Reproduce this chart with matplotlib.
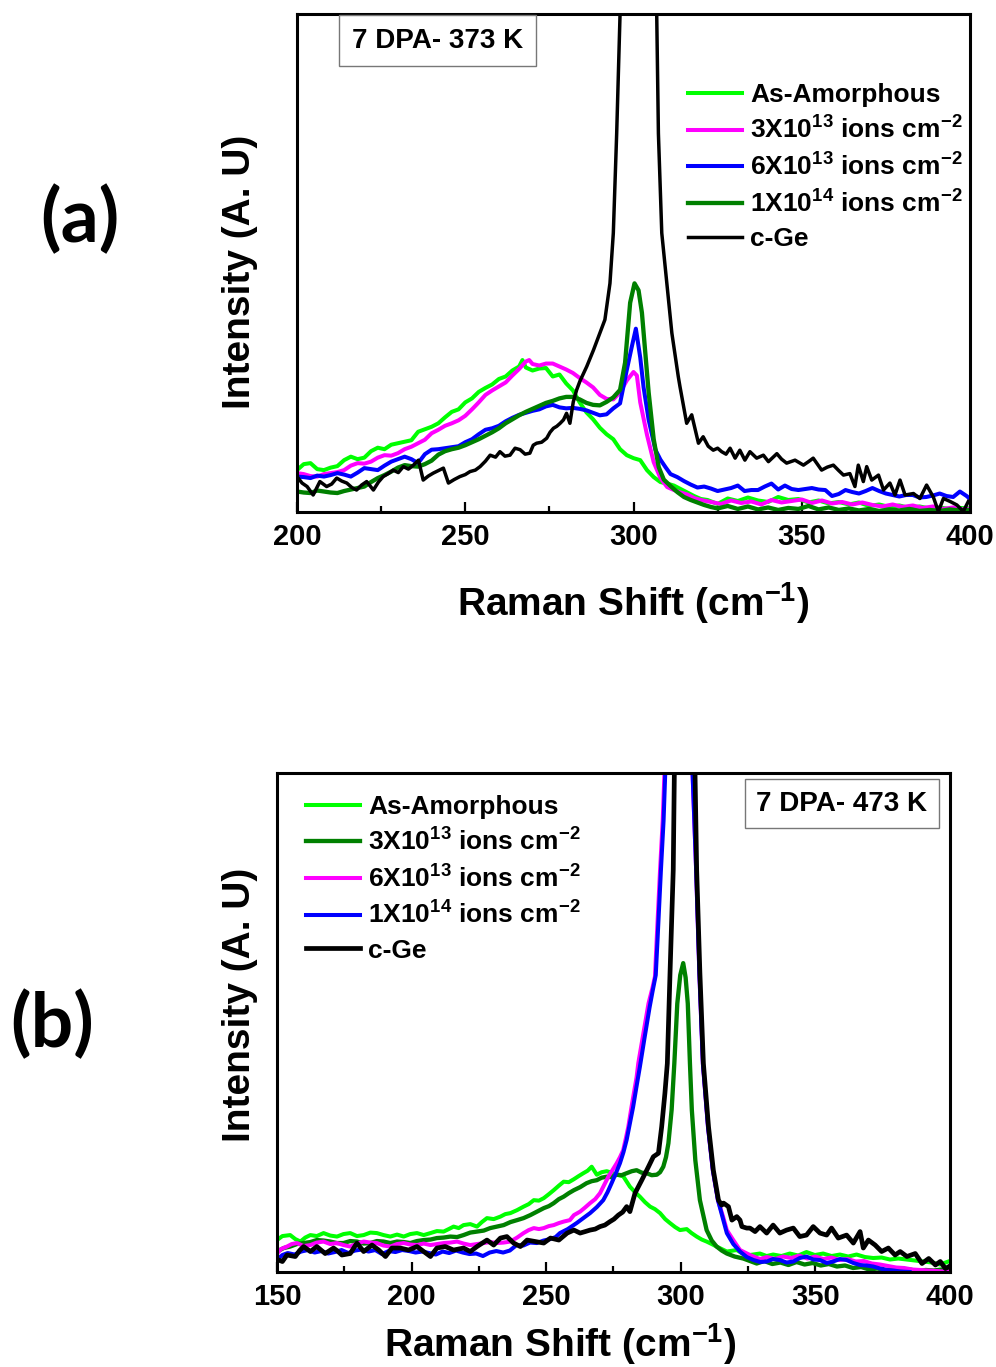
import matplotlib
matplotlib.use("Agg")
import matplotlib.pyplot as plt
from matplotlib.ticker import MultipleLocator

plt.rcParams['font.family'] = ['Liberation Sans', 'DejaVu Sans']
plt.rcParams['font.weight'] = 'bold'
plt.rcParams['mathtext.fontset'] = 'custom'
plt.rcParams['mathtext.rm'] = 'Liberation Sans:bold'
plt.rcParams['mathtext.bf'] = 'Liberation Sans:bold'
plt.rcParams['mathtext.default'] = 'rm'

# ---------------- panel (a): 7 DPA - 373 K ----------------
a_amorph_x = [200, 202, 204, 206, 208, 210, 212, 214, 216, 218, 220, 222, 224, 226, 228, 230, 232, 234, 236, 238,
              240, 242, 244, 246, 248, 250, 252, 254, 256, 258, 260, 262, 264, 266, 267, 268, 270, 272, 274, 276,
              278, 280, 282, 284, 286, 288, 290, 292, 294, 296, 298, 300, 302, 304, 306, 308, 310, 312, 314, 316,
              318, 320, 322, 325, 328, 331, 334, 337, 340, 343, 346, 349, 352, 355, 358, 361, 364, 367, 370, 373,
              376, 379, 382, 385, 388, 391, 394, 397, 400]
a_amorph_y = [8.4, 9.6, 9.8, 8.6, 8.4, 8.9, 9.2, 10.4, 11.1, 10.6, 10.9, 12.2, 12.9, 12.6, 13.5, 13.8, 14.1, 14.4, 16.1, 16.6,
              17.1, 17.8, 19.0, 20.1, 20.6, 22.0, 22.8, 24.1, 24.9, 25.6, 26.7, 27.2, 28.4, 29.2, 30.5, 29.0, 28.4, 28.8, 28.9, 27.2,
              27.6, 25.8, 24.4, 22.0, 20.0, 18.6, 16.9, 15.6, 14.6, 12.6, 11.4, 10.8, 10.4, 8.4, 7.0, 6.0, 5.7, 5.3, 4.6, 3.9,
              3.2, 2.6, 2.4, 1.6, 2.7, 2.2, 2.9, 2.3, 2.0, 3.0, 2.4, 2.6, 1.9, 2.3, 1.7, 2.0, 1.5, 1.9, 1.2, 1.5,
              1.0, 1.3, 0.8, 1.1, 0.7, 0.9, 0.6, 0.8, 0.7]

a_3e13_x = [200, 202, 204, 206, 208, 210, 212, 214, 216, 218, 220, 222, 224, 226, 228, 230, 232, 234, 236, 238,
            240, 242, 244, 246, 248, 250, 252, 254, 256, 258, 260, 262, 264, 266, 268, 269, 270, 272, 274, 276,
            278, 280, 282, 284, 286, 288, 290, 292, 294, 296, 298, 300, 301, 302, 304, 306, 308, 310, 312, 314,
            316, 318, 320, 323, 326, 329, 332, 335, 338, 341, 344, 347, 350, 353, 356, 359, 362, 365, 368, 371,
            374, 377, 380, 383, 386, 389, 392, 395, 398, 400]
a_3e13_y = [7.8, 7.6, 7.2, 7.1, 7.6, 7.8, 8.0, 8.4, 9.3, 9.8, 9.7, 10.1, 10.9, 11.4, 11.3, 11.8, 12.6, 13.1, 13.8, 14.5,
            15.8, 16.5, 17.3, 17.8, 18.4, 19.3, 20.6, 22.0, 23.5, 24.4, 25.2, 26.0, 27.4, 28.7, 30.2, 30.5, 29.7, 29.4, 29.8, 29.8,
            29.2, 28.6, 27.9, 26.9, 26.0, 25.0, 23.5, 22.7, 22.6, 24.0, 26.4, 28.1, 27.4, 22.0, 15.5, 10.0, 6.8, 5.0, 4.4, 3.9,
            3.5, 2.8, 2.4, 2.0, 1.6, 2.3, 1.8, 2.1, 1.5, 2.4, 1.9, 2.2, 2.5, 1.8, 2.3, 1.7, 2.0, 1.5, 1.9, 1.4,
            1.1, 1.5, 1.0, 1.3, 0.8, 1.1, 0.6, 0.9, 0.5, 0.6]

a_6e13_x = [200, 202, 204, 206, 208, 210, 212, 214, 216, 218, 220, 222, 224, 226, 228, 230, 232, 234, 236, 238,
            240, 242, 244, 246, 248, 250, 252, 254, 256, 258, 260, 262, 264, 266, 268, 270, 272, 274, 276, 278,
            280, 282, 284, 286, 288, 290, 292, 294, 296, 298, 299.5, 300.7, 302, 303, 304.5, 306.5, 308, 309.5, 311, 313,
            315, 317, 319, 321, 323, 325, 327, 329, 331, 333, 335, 337, 339, 341, 343, 345, 347, 349, 351, 353,
            355, 357, 359, 361, 363, 365, 367, 369, 371, 373, 375, 377, 379, 381, 383, 385, 387, 389, 391, 393,
            395, 397, 399, 400]
a_6e13_y = [7.1, 7.0, 6.8, 7.3, 7.1, 7.4, 7.8, 7.5, 7.1, 7.9, 8.8, 8.6, 8.4, 9.3, 10.1, 10.6, 11.1, 10.6, 9.8, 11.6,
            12.5, 12.6, 12.8, 13.0, 13.2, 14.0, 14.6, 15.6, 16.5, 16.8, 17.3, 18.2, 18.9, 19.5, 19.9, 20.3, 20.6, 21.2, 21.5, 21.0,
            20.8, 20.9, 20.7, 20.4, 19.9, 19.4, 19.6, 20.8, 21.8, 28.5, 33.2, 36.8, 31.0, 25.0, 18.5, 12.5, 10.5, 9.0, 7.6, 7.0,
            6.2, 5.5, 4.9, 5.1, 4.7, 4.2, 4.5, 4.8, 5.3, 4.2, 4.4, 4.4, 5.1, 5.7, 4.5, 5.3, 4.6, 4.4, 4.6, 4.8,
            4.5, 4.4, 3.2, 3.6, 4.4, 4.0, 3.7, 4.2, 4.8, 4.2, 3.7, 3.4, 3.1, 3.4, 3.4, 2.9, 3.0, 3.3, 3.7, 3.2,
            3.0, 4.1, 3.2, 2.6]

a_1e14_x = [200, 202, 204, 206, 208, 210, 212, 214, 216, 218, 220, 222, 224, 226, 228, 230, 232, 234, 236, 238,
            240, 242, 244, 246, 248, 250, 252, 254, 256, 258, 260, 262, 264, 266, 268, 270, 272, 274, 276, 278,
            280, 282, 284, 286, 288, 290, 292, 294, 296, 297.5, 299, 300.3, 301.5, 302.5, 303.5, 304.5, 306, 307.5, 309, 311,
            313, 315, 317, 319, 321, 323, 325, 328, 331, 334, 337, 340, 343, 346, 349, 352, 355, 358, 361, 364,
            367, 370, 373, 376, 379, 382, 385, 388, 391, 394, 397, 400]
a_1e14_y = [4.1, 3.9, 3.8, 4.3, 4.1, 3.9, 3.8, 4.2, 4.5, 4.8, 5.1, 6.0, 6.8, 7.4, 8.1, 8.9, 9.4, 9.2, 9.1, 9.6,
            10.3, 11.5, 12.2, 12.6, 12.9, 13.4, 14.0, 14.6, 15.3, 16.0, 16.8, 17.8, 18.6, 19.4, 20.1, 20.7, 21.3, 21.9, 22.3, 22.8,
            23.1, 23.1, 22.6, 21.9, 21.5, 21.4, 22.1, 23.0, 24.5, 30.0, 42.0, 45.9, 44.5, 40.0, 32.0, 24.0, 14.6, 9.0, 6.5, 5.2,
            4.0, 3.0, 2.4, 1.9, 1.4, 1.0, 0.7, 1.2, 0.6, 1.1, 0.5, 0.9, 0.4, 0.8, 0.6, 1.2, 0.5, 0.9, 0.4, 0.7,
            0.3, 0.6, 0.2, 0.5, 0.3, 0.6, 0.2, 0.4, 0.2, 0.5, 0.3, 0.4]

a_cge_x = [200, 201.5, 203, 204.8, 206.8, 208.8, 210.3, 211.8, 213.3, 214.8, 216.3, 217.7, 219.2, 220.7, 222.7, 224.2,
           225.6, 227.1, 228.6, 230.1, 231.6, 233.1, 234.6, 236.1, 237.5, 239, 240.5, 242, 243.5, 245, 246.7, 248.4,
           250, 251.4, 253, 254.4, 256, 257.4, 259, 260.3, 261.8, 263.3, 264.8, 266.3, 267.8, 269.2, 270.2, 271.2,
           272.7, 274.2, 275.2, 276.2, 277.2, 278.2, 279.2, 280.1, 281.1, 282.1, 283.1, 284.1, 286.1, 288.1, 290,
           291.5, 293, 294, 295, 296, 298, 301, 304, 306.9, 307.4, 308.4, 309.9, 311.4, 313.3, 313.8, 315.8, 317.3,
           319.3, 320.7, 322.2, 323.7, 325, 326.2, 327.5, 328.7, 330.2, 331.6, 333.1, 334.6, 336.6, 338.6, 340.1,
           342.6, 344, 345.5, 348, 350.5, 352, 353.4, 355.9, 357.6, 359.4, 361, 362.4, 364.3, 365.8, 366.8, 368.3,
           369.3, 370.8, 372.8, 374.3, 376.2, 377.7, 379.2, 380.7, 383.2, 385.1, 387.1, 389.1, 390.6, 392.1, 394.1,
           396.1, 398, 399.5]
a_cge_y = [7.1, 5.8, 5.1, 3.4, 6.1, 5.1, 5.6, 6.8, 6.2, 5.8, 4.9, 4.4, 5.4, 6.1, 4.4, 6.0,
           7.1, 7.7, 8.4, 7.9, 9.1, 8.6, 9.4, 10.4, 6.4, 7.2, 7.8, 8.3, 8.8, 5.8, 6.5, 7.1,
           7.5, 8.1, 8.4, 9.1, 10.2, 11.4, 11.0, 12.1, 11.2, 11.4, 12.8, 12.5, 11.6, 11.8, 13.4, 13.8,
           14.0, 14.8, 16.0, 16.8, 17.2, 17.8, 18.5, 19.8, 17.8, 22.1, 24.5, 26.3, 29.2, 32.5, 35.9,
           38.6, 45.9, 56.0, 76.0, 99.8, 150, 200, 150, 99.8, 76.0, 56.0, 45.9, 35.9, 27.2, 25.2, 17.8, 19.5,
           13.8, 15.1, 13.2, 12.4, 12.8, 12.1, 11.6, 12.8, 10.8, 12.4, 10.4, 12.1, 10.8, 11.4, 10.1,
           11.7, 10.6, 9.8, 10.4, 9.4, 10.1, 10.8, 8.4, 9.0, 9.4, 8.3, 7.4, 7.7, 5.1, 9.4, 6.1,
           9.1, 6.4, 7.4, 4.4, 5.8, 3.4, 6.4, 3.4, 3.7, 2.7, 5.4, 3.0, 0.1, 2.7, 2.1,
           1.4, 0.1, 2.1]

# ---------------- panel (b): 7 DPA - 473 K ----------------
b_amorph_x = [150, 152, 154.9, 156.8, 158.7, 160.5, 162.4, 164.8, 167.3, 169.8, 172.3, 174.7, 177.2, 179.7, 182.2,
              184.7, 187.1, 189.6, 192.1, 194.6, 197.1, 199.5, 202, 204.5, 207, 209.4, 211.9, 213.8, 215.6, 217.5,
              219.3, 221.8, 224.3, 226.1, 228, 230.5, 233, 234.8, 236.7, 239.2, 241.6, 243.5, 245.4, 247.3, 249.1,
              251, 252.8, 254.7, 256.5, 258.4, 260.3, 262, 263.8, 265.4, 266.9, 268.8, 270.6, 272.5, 274.3, 276.2,
              278.6, 281.1, 283, 284.8, 286.7, 288.6, 290.4, 292.3, 294.2, 296, 297.9, 299.7, 302.2, 304, 305.9,
              307.8, 309.6, 311.5, 313.3, 315.2, 317.1, 320.8, 323.2, 325.7, 329.4, 331.9, 334.3, 337.4, 340.5,
              343.6, 346.7, 349.8, 352.9, 356, 359.1, 362.2, 365.3, 368.4, 371.5, 374.6, 377.7, 380.8, 383.9,
              387, 390.1, 393.2, 396.3, 399.4]
b_amorph_y = [6.4, 7.2, 7.4, 6.6, 6.1, 6.9, 7.4, 7.2, 7.8, 7.3, 7.1, 7.6, 7.8, 7.2, 7.4,
              7.9, 7.8, 7.4, 7.1, 7.5, 7.1, 7.6, 7.8, 7.4, 7.8, 8.2, 8.1, 8.6, 9.1, 8.8,
              9.4, 9.6, 9.1, 10.0, 10.8, 10.6, 11.1, 11.6, 11.8, 12.4, 13.1, 13.6, 14.4, 14.3, 14.8,
              15.6, 16.4, 17.3, 18.1, 18.0, 18.6, 19.2, 19.8, 20.3, 21.1, 19.5, 20.0, 20.2, 19.9, 19.5,
              19.2, 17.1, 16.0, 15.1, 14.0, 13.1, 12.6, 11.8, 10.6, 9.8, 9.0, 8.4, 8.6, 7.8, 7.1,
              6.5, 6.1, 5.6, 5.1, 4.6, 4.1, 4.4, 3.6, 3.4, 3.7, 3.2, 3.5, 3.2, 3.7,
              3.3, 4.0, 3.4, 3.7, 3.2, 3.5, 3.1, 3.5, 3.0, 2.8, 2.9, 2.5, 2.7, 2.5,
              2.3, 2.1, 1.9, 1.5, 2.1]

b_3e13_x = [150, 152.5, 154.9, 157.4, 159.9, 162.4, 164.8, 167.3, 169.8, 172.3, 174.7, 177.2, 179.7, 182.2, 184.7,
            187.1, 189.6, 192.1, 194.6, 197.1, 199.5, 202, 204.5, 207, 209.4, 211.9, 214.4, 216.9, 219.3, 221.8,
            224.3, 226.8, 229.2, 231.7, 234.2, 236.7, 239.2, 241.6, 244.1, 246.6, 249.1, 251, 252.8, 254.7, 256.5,
            258.4, 260.3, 262.6, 265, 266.9, 268.8, 270.6, 272.5, 274.3, 276.2, 278, 279.9, 281.8, 283.6, 285.5,
            287.3, 289.2, 291.1, 292.3, 293.5, 294.5, 295.4, 296.6, 297.6, 298.7, 299.8, 300.9, 301.8, 302.6, 303.4,
            304.1, 305.4, 307.1, 309.6, 311.5, 313.3, 315.2, 317.1, 320, 323.2, 325.7, 328.2, 331, 334, 337,
            340, 343, 346, 349, 352, 355, 358, 361, 364, 367, 370, 373, 376, 379, 382,
            385, 388, 391, 394, 397, 400]
b_3e13_y = [4.1, 4.8, 5.1, 5.6, 5.8, 6.0, 6.4, 6.3, 6.1, 5.8, 5.8, 6.2, 6.1, 5.7, 5.8,
            6.2, 6.1, 5.8, 6.1, 6.0, 5.8, 6.2, 6.4, 6.5, 6.8, 6.9, 7.1, 7.0, 7.4, 7.9,
            8.1, 8.3, 8.8, 9.1, 9.4, 10.0, 10.4, 10.8, 11.4, 12.1, 12.8, 13.2, 13.8, 14.6, 15.1,
            15.8, 16.4, 17.0, 17.8, 18.2, 18.4, 18.9, 19.1, 19.0, 19.5, 19.4, 19.8, 20.2, 20.4, 19.9,
            19.8, 19.4, 19.5, 20.0, 21.1, 23.0, 25.8, 32.5, 41.8, 53.8, 59.5, 61.9, 59.0, 53.8, 41.8,
            32.5, 22.4, 14.4, 8.4, 6.3, 5.1, 4.3, 3.7, 3.1, 2.7, 2.2, 1.7, 2.2, 1.6, 1.9,
            1.4, 2.0, 1.5, 1.8, 1.3, 1.6, 1.1, 1.3, 0.8, 1.0, 0.5, 0.7, 0.4, 0.6, 0.3,
            0.5, 0.2, 0.4, 0.3, 0.5, 0.3]

b_6e13_x = [150, 151.5, 153.7, 155.5, 157.4, 159.9, 162.4, 164.8, 167.3, 169.8, 172.3, 174.7, 177.2, 179.7, 182.2,
            184.7, 187.1, 189.6, 192.1, 194.6, 197.1, 199.5, 202, 204.5, 207, 209.4, 211.9, 214.4, 216.9, 219.3,
            221.8, 224.3, 226.8, 229.2, 231.8, 234.2, 236.7, 239.2, 241.6, 243.5, 245.4, 247.3, 249.1, 251, 252.8,
            254.7, 256.5, 258.8, 260.3, 262.6, 264.4, 266.3, 268.2, 270, 271.5, 273.1, 274.6, 276.2, 277.4, 278.6,
            279.6, 280.5, 281.7, 283.6, 284.2, 286, 288, 289.5, 290.4, 291.1, 292.3, 293.3, 293.9, 295, 298,
            301, 303.5, 304.4, 305.7, 306.9, 308.2, 310.1, 311.9, 313.8, 315.7, 317.1, 319.5, 322, 325.7, 329.4,
            332, 335, 338, 341, 344, 347, 350, 353, 356, 359, 362, 365, 368, 371, 374,
            377, 380, 383, 386, 389, 392, 395, 398, 400]
b_6e13_y = [3.7, 4.6, 5.1, 5.6, 5.8, 5.2, 5.4, 5.9, 6.1, 5.6, 5.8, 5.4, 5.1, 5.7, 6.1,
            5.9, 5.8, 5.3, 5.1, 5.6, 5.8, 5.5, 5.4, 5.7, 5.4, 5.6, 5.8, 5.9, 6.1, 5.7,
            5.4, 5.6, 5.8, 6.0, 5.8, 5.9, 6.1, 6.9, 7.8, 8.4, 8.8, 8.6, 8.8, 9.2, 9.4,
            9.8, 10.1, 10.4, 11.4, 12.1, 12.9, 13.8, 14.6, 15.8, 17.4, 19.1, 20.4, 21.8, 23.0, 24.4,
            26.8, 29.1, 33.1, 39.1, 41.8, 47.5, 53.8, 57.0, 59.2, 67.2, 80.6, 90.6, 99.6, 130, 200,
            220, 160, 99.6, 80.6, 59.9, 41.8, 29.1, 20.4, 14.4, 11.1, 8.4, 6.4, 4.4, 3.4, 2.6,
            3.0, 2.6, 3.1, 2.8, 3.3, 2.7, 3.1, 2.6, 2.9, 2.4, 2.6, 2.1, 2.2, 1.7, 1.5,
            1.2, 0.9, 0.8, 0.5, 0.4, 0.3, 0.2, 0.1, 0.1]

b_1e14_x = [150, 152, 154, 156.5, 159, 161.5, 164, 166.5, 169, 171.5, 174, 176.5, 179, 181.5, 184,
            186.5, 189, 191.5, 194, 196.5, 199, 201.5, 204, 206.5, 209, 211.5, 214, 216.5, 219, 221.5,
            224, 226.5, 229, 231.5, 234, 236.5, 239, 241.5, 244, 246.5, 249, 251.5, 253.5, 255.1, 258,
            261.3, 263.8, 266.3, 268.8, 271.2, 272.8, 274.3, 275.9, 277.4, 278.7, 279.9, 281.1, 282.3, 283.5, 284.8,
            286.5, 288.4, 289.5, 290.7, 291.4, 292.6, 293.6, 294.2, 295, 298, 301, 303.5, 304.4, 305.7, 306.9,
            308.2, 310.1, 311.9, 313.8, 315.7, 317.1, 319.5, 322, 324.5, 327, 329.5, 331.9, 334.3, 336.8, 339.3,
            341.8, 344.2, 346.7, 349.2, 351.7, 354.2, 356.6, 359.1, 361.6, 364.1, 366.6, 369, 371.5, 374, 376.5,
            379, 381.5, 385]
b_1e14_y = [2.5, 3.4, 3.8, 3.5, 4.1, 4.4, 3.9, 4.2, 3.7, 4.0, 4.4, 3.8, 4.3, 4.5, 4.1,
            4.4, 3.6, 4.2, 4.0, 4.4, 4.2, 3.9, 4.1, 3.8, 3.5, 4.1, 3.8, 4.3, 3.9, 3.6,
            3.7, 3.2, 3.9, 4.2, 3.9, 4.3, 5.4, 5.3, 5.9, 5.8, 6.3, 6.6, 7.0, 7.8, 8.6,
            9.8, 10.8, 11.8, 13.0, 14.4, 16.0, 17.8, 19.8, 21.8, 24.0, 26.5, 29.8, 33.1, 37.0, 41.1,
            46.8, 53.0, 56.2, 59.5, 67.0, 80.3, 90.4, 99.6, 130, 200, 220, 160, 99.6, 80.6, 59.9,
            41.8, 29.1, 20.4, 14.4, 10.6, 7.8, 5.6, 4.1, 3.0, 2.4, 2.0, 2.1, 2.6, 2.4, 1.9,
            2.1, 2.8, 3.1, 2.5, 2.4, 1.8, 2.1, 2.6, 2.4, 1.8, 1.4, 1.3, 1.1, 0.7, 0.4,
            0.3, 0.1, 0.0]

b_cge_x = [150.6, 152, 153.7, 156.8, 158.4, 159.9, 162.4, 164.8, 167.9, 171, 172.5, 174.1, 177.2, 179.7, 182.2,
           185.3, 187.8, 190.3, 192.7, 195.8, 198.9, 202, 204.5, 207, 209.4, 212.5, 215.6, 219.3, 221.8, 224.3,
           228, 230.5, 233, 235.4, 237.9, 240.4, 242.9, 246, 249.1, 251.6, 254.7, 257.8, 260.3, 262.6, 264.5,
           266.3, 268.2, 270, 271.8, 273.7, 275.2, 276.8, 278.4, 279.9, 281.1, 283, 285.5, 288, 289.8, 291.7,
           292.9, 294.1, 295, 296, 297.2, 297.6, 299, 301, 304, 305.3, 305.9, 307.1, 308.4, 310.3, 312.1,
           314, 315.2, 315.9, 317.7, 319, 320.8, 322, 322.7, 324.5, 325.7, 327.6, 329.4, 331.9, 334.3, 336.8,
           339.3, 341.8, 344.2, 346.7, 349.2, 351.7, 354.2, 356, 358.5, 361.6, 364.1, 366.6, 367.8, 369.7, 372.2,
           374.6, 377.1, 379.6, 381.5, 384, 387.1, 389.6, 392.1, 394.6, 396.4, 398.3, 400]
b_cge_y = [2.4, 2.1, 3.4, 3.1, 4.3, 5.1, 4.1, 5.1, 3.7, 4.8, 4.2, 3.4, 3.7, 5.8, 4.1,
           5.4, 4.4, 3.1, 4.8, 4.8, 4.4, 5.1, 4.1, 3.1, 4.8, 5.1, 4.4, 4.8, 4.1, 5.1,
           6.4, 5.4, 6.8, 7.1, 5.8, 5.1, 6.4, 6.1, 5.8, 6.8, 6.4, 7.8, 8.4, 7.8, 8.1,
           8.4, 8.6, 9.1, 9.4, 10.1, 10.6, 11.4, 12.0, 13.1, 12.1, 15.8, 18.4, 21.1, 23.1, 23.8,
           29.1, 35.8, 41.8, 59.9, 80.6, 99.6, 160, 230, 160, 99.6, 80.6, 59.9, 41.8, 29.1, 20.4,
           14.4, 13.4, 13.8, 13.1, 10.4, 11.1, 10.4, 9.1, 8.8, 8.8, 8.1, 9.1, 7.8, 9.4, 7.8,
           8.4, 8.8, 7.1, 7.4, 9.1, 7.8, 7.4, 8.8, 6.8, 7.4, 5.8, 8.1, 4.8, 6.4, 5.4,
           4.1, 4.8, 3.4, 4.1, 3.1, 3.7, 1.7, 2.7, 1.4, 2.1, 0.7, 1.2]

labels_a = ['As-Amorphous', '3X10$^{13}$ ions cm$^{-2}$', '6X10$^{13}$ ions cm$^{-2}$',
            '1X10$^{14}$ ions cm$^{-2}$', 'c-Ge']
labels_b = ['As-Amorphous', '3X10$^{13}$ ions cm$^{-2}$', '6X10$^{13}$ ions cm$^{-2}$',
            '1X10$^{14}$ ions cm$^{-2}$', 'c-Ge']

LIME, MAG, BLUE, DKG = '#00ff00', '#ff00ff', '#0000ff', '#008000'


def style_axes(ax, xmin, xmax, ylab_x, ylab_y, xlab_x, xlab_y):
    ax.set_xlim(xmin, xmax)
    ax.set_ylim(0, 100)
    ax.set_yticks([])
    ax.xaxis.set_major_locator(MultipleLocator(50))
    ax.xaxis.set_minor_locator(MultipleLocator(25))
    ax.tick_params(axis='x', which='major', direction='in', length=7, width=1.6,
                   labelsize=21, pad=8, top=False)
    ax.tick_params(axis='x', which='minor', direction='in', length=4, width=1.6, top=False)
    for s in ax.spines.values():
        s.set_linewidth(2.2)
    for lab in ax.get_xticklabels():
        lab.set_fontweight('bold')
    ax.set_xlabel('Raman Shift (cm$^{-1}$)', fontsize=28, fontweight='bold')
    ax.set_ylabel('Intensity (A. U)', fontsize=28, fontweight='bold')
    ax.yaxis.set_label_coords(ylab_x, ylab_y)
    ax.xaxis.set_label_coords(xlab_x, xlab_y)


fig = plt.figure(figsize=(9.96, 13.67), dpi=100)

# panel (a)
ax1 = fig.add_axes([0.2982, 0.6255, 0.6757, 0.3643])
ax1.plot(a_amorph_x, a_amorph_y, color=LIME, lw=2.9, label=labels_a[0])
ax1.plot(a_3e13_x, a_3e13_y, color=MAG, lw=2.9, label=labels_a[1])
ax1.plot(a_6e13_x, a_6e13_y, color=BLUE, lw=2.9, label=labels_a[2])
ax1.plot(a_1e14_x, a_1e14_y, color=DKG, lw=3.1, label=labels_a[3])
ax1.plot(a_cge_x, a_cge_y, color='black', lw=2.5, label=labels_a[4])
style_axes(ax1, 200, 400, -0.058, 0.482, 0.5, -0.137)
ax1.legend(loc='upper left', bbox_to_anchor=(0.581, 0.861), frameon=False, fontsize=19,
           handlelength=2.05, handletextpad=0.3, labelspacing=0.36, borderpad=0, borderaxespad=0)
ax1.text(0.2088, 0.9458, '7 DPA- 373 K', transform=ax1.transAxes, fontsize=20, fontweight='bold',
         ha='center', va='center',
         bbox=dict(boxstyle='square,pad=0.45', facecolor='white', edgecolor='#777777', lw=1.0))

# panel (b)
ax2 = fig.add_axes([0.2781, 0.0695, 0.6757, 0.3650])
ax2.plot(b_amorph_x, b_amorph_y, color=LIME, lw=2.9, label=labels_b[0])
ax2.plot(b_3e13_x, b_3e13_y, color=DKG, lw=3.1, label=labels_b[1])
ax2.plot(b_6e13_x, b_6e13_y, color=MAG, lw=2.9, label=labels_b[2])
ax2.plot(b_1e14_x, b_1e14_y, color=BLUE, lw=2.9, label=labels_b[3])
ax2.plot(b_cge_x, b_cge_y, color='black', lw=3.4, label=labels_b[4])
style_axes(ax2, 150, 400, -0.028, 0.535, 0.42, -0.099)
ax2.legend(loc='upper left', bbox_to_anchor=(0.043, 0.956), frameon=False, fontsize=19,
           handlelength=2.05, handletextpad=0.3, labelspacing=0.36, borderpad=0, borderaxespad=0)
ax2.text(0.8395, 0.9389, '7 DPA- 473 K', transform=ax2.transAxes, fontsize=20, fontweight='bold',
         ha='center', va='center',
         bbox=dict(boxstyle='square,pad=0.4', facecolor='white', edgecolor='#777777', lw=1.0))

fig.text(0.0803, 0.839, '(a)', fontsize=54, fontweight='bold', family=['Lato', 'DejaVu Sans'],
         ha='center', va='center')
fig.text(0.0522, 0.2502, '(b)', fontsize=54, fontweight='bold', family=['Lato', 'DejaVu Sans'],
         ha='center', va='center')

fig.savefig('out.png', dpi=100, facecolor='white')
